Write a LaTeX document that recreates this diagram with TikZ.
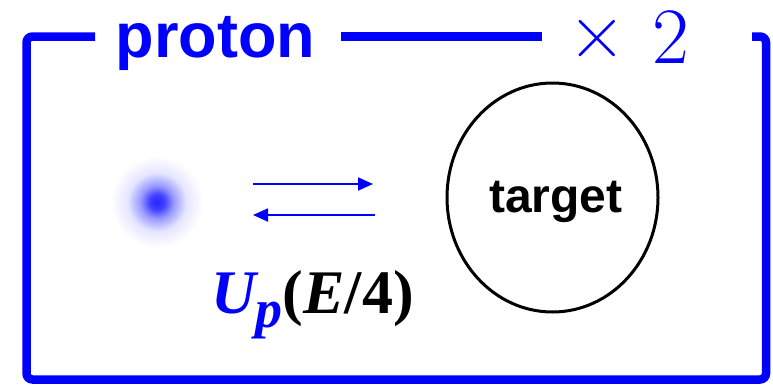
\documentclass[tikz,border=0pt]{standalone}
\usepackage{fontspec}
\setmainfont{Liberation Serif}
\newfontfamily\arialfont{Liberation Sans}
\newfontfamily\lmfont{Latin Modern Roman}
\usetikzlibrary{shapes.geometric,arrows.meta}
\definecolor{pblue}{RGB}{0,0,255}
\pgfdeclareradialshading{glow}{\pgfpoint{0bp}{0bp}}{color(0bp)=(pblue!85); color(4bp)=(pblue!75); color(9bp)=(pblue!40); color(16bp)=(pblue!10); color(25bp)=(white); color(50bp)=(white)}
\begin{document}
\begin{tikzpicture}[x=1pt,y=1pt,
  frame/.style={draw=pblue, line width=8.5pt},
  flow/.style={draw=pblue, line width=1.8pt, -{Triangle[length=15pt,width=13pt]}},
  ttl/.style={text=pblue, font=\arialfont\bfseries\fontsize{63}{63}\selectfont, inner sep=0},
  tgt/.style={draw=black, line width=3pt, ellipse, minimum width=211pt, minimum height=229pt, inner sep=0},
  tgtlabel/.style={inner sep=0, anchor=base, font=\arialfont\bfseries\fontsize{48}{48}\selectfont}]
\useasboundingbox (0,0) rectangle (773,384);
% glowing particle
\node[circle, inner sep=0, minimum size=16pt] (dot) at (157,182) {};
\shade[shading=glow] (dot.center) circle (46pt);
% frame
\draw[frame, rounded corners=6pt] (95,347.5) -- (26.5,347.5) -- (26.5,4.5) -- (766,4.5) -- (766,347.5) -- (752,347.5);
\draw[frame] (341,347.5) -- (542,347.5);
% title
\node[ttl, anchor=base] (title) at (215.5,327) {proton};
\node[text=pblue, inner sep=0, anchor=base west, font=\lmfont\fontsize{80}{80}\selectfont] (mult) at (568.5,321) {\raisebox{5pt}{×}\hspace{26pt}2};
% target
\node[tgt] (target) at (552.5,186.5) {};
\node[tgtlabel] (tlabel) at (556,172) {target};
% arrows
\coordinate (a1s) at (253,200);
\coordinate (a1e) at (373,200);
\coordinate (a2s) at (375,169);
\coordinate (a2e) at (253,169);
\draw[flow] (a1s) -- (a1e);
\draw[flow] (a2s) -- (a2e);
% potential label
\node[anchor=base west, inner sep=0, font=\fontsize{62}{62}\selectfont] (pot) at (211,71)
  {{\color{pblue}\bfseries\itshape U\raisebox{-14pt}{\fontsize{54}{54}\selectfont p}}{\bfseries(\itshape E\upshape/4)}};
\end{tikzpicture}
\end{document}
